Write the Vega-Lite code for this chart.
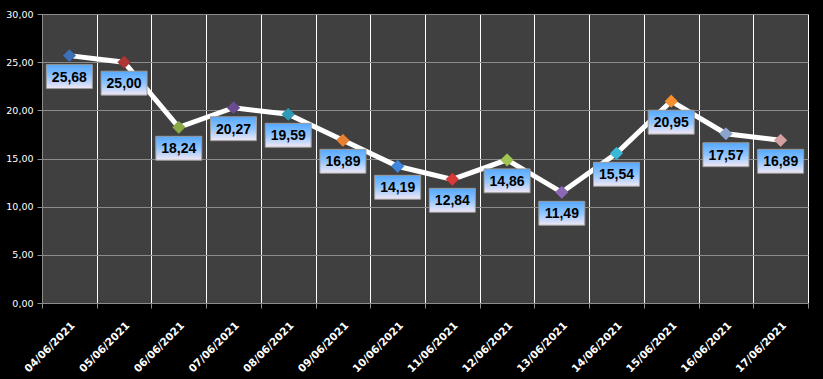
{
  "$schema": "https://vega.github.io/schema/vega-lite/v6.json",
  "width": 766,
  "height": 289,
  "autosize": {"type": "none"},
  "padding": {"left": 42, "top": 14, "right": 15, "bottom": 76},
  "background": "#000000",
  "config": {
    "view": {"fill": "#404040", "stroke": null},
    "locale": {"number": {"decimal": ",", "thousands": ".", "grouping": [3], "currency": ["", " €"]}},
    "axis": {
      "labelColor": "#ffffff",
      "labelFont": "DejaVu Sans",
      "labelFontSize": 10,
      "domainColor": "#8c8c8c",
      "tickColor": "#8c8c8c",
      "title": null
    }
  },
  "data": {
    "values": [
      {"date": "04/06/2021", "value": 25.68},
      {"date": "05/06/2021", "value": 25.00},
      {"date": "06/06/2021", "value": 18.24},
      {"date": "07/06/2021", "value": 20.27},
      {"date": "08/06/2021", "value": 19.59},
      {"date": "09/06/2021", "value": 16.89},
      {"date": "10/06/2021", "value": 14.19},
      {"date": "11/06/2021", "value": 12.84},
      {"date": "12/06/2021", "value": 14.86},
      {"date": "13/06/2021", "value": 11.49},
      {"date": "14/06/2021", "value": 15.54},
      {"date": "15/06/2021", "value": 20.95},
      {"date": "16/06/2021", "value": 17.57},
      {"date": "17/06/2021", "value": 16.89}
    ]
  },
  "encoding": {
    "x": {
      "field": "date",
      "type": "ordinal",
      "sort": null,
      "scale": {"type": "band", "paddingInner": 0, "paddingOuter": 0},
      "axis": {
        "tickBand": "extent",
        "labelAngle": -45,
        "labelFontWeight": "bold",
        "labelFontSize": 10.5,
        "labelPadding": 12,
        "labelOffset": 0,
        "tickSize": 5,
        "gridColor": "#ffffff",
        "gridWidth": 1,
        "grid": true
      }
    },
    "y": {
      "field": "value",
      "type": "quantitative",
      "scale": {"domain": [0, 30], "nice": false},
      "axis": {
        "values": [0, 5, 10, 15, 20, 25, 30],
        "format": ".2f",
        "labelFontSize": 9.5,
        "tickSize": 5,
        "labelPadding": 4,
        "gridColor": "#8c8c8c",
        "gridWidth": 1
      }
    }
  },
  "layer": [
    {
      "mark": {"type": "line", "color": "#ffffff", "strokeWidth": 5}
    },
    {
      "mark": {"type": "point", "shape": "diamond", "filled": true, "size": 175, "opacity": 1, "stroke": "#00000033", "strokeWidth": 0.5},
      "encoding": {
        "color": {
          "field": "date",
          "type": "nominal",
          "sort": null,
          "legend": null,
          "scale": {
            "range": ["#3f6fb5", "#b03535", "#8aaa45", "#6a4c91", "#2f9ab5", "#e8802f", "#3f87dd", "#d83a3a", "#a2c654", "#8a68b5", "#3ab8d8", "#f7902e", "#8aa4cc", "#d4a0a0"]
          }
        }
      }
    },
    {
      "mark": {
        "type": "point",
        "shape": "M-1,-0.52H1V0.52H-1Z",
        "size": 2116,
        "filled": true,
        "opacity": 1,
        "yOffset": 21,
        "fill": {
          "gradient": "linear",
          "x1": 0, "y1": 0, "x2": 0, "y2": 1,
          "stops": [
            {"offset": 0, "color": "#55a8ff"},
            {"offset": 0.5, "color": "#8ec4ff"},
            {"offset": 1, "color": "#f4e8f4"}
          ]
        },
        "stroke": "#9a9a9a",
        "strokeWidth": 1
      }
    },
    {
      "mark": {
        "type": "text",
        "font": "Liberation Sans",
        "fontWeight": "bold",
        "fontSize": 14,
        "color": "#000000",
        "baseline": "middle",
        "align": "center",
        "yOffset": 22
      },
      "encoding": {
        "text": {"field": "value", "type": "quantitative", "format": ".2f"}
      }
    }
  ]
}
